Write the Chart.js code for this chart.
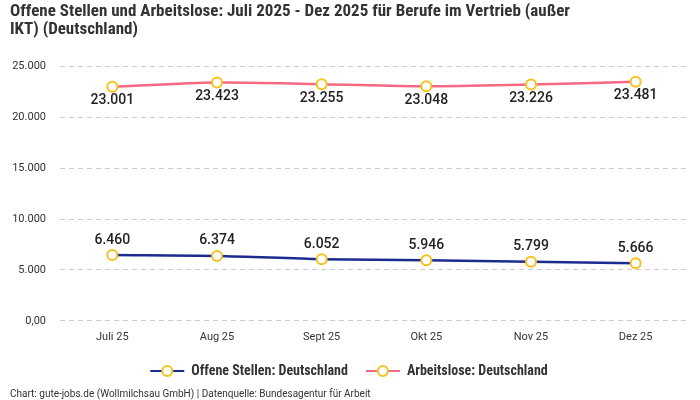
<!DOCTYPE html>
<html><head><meta charset="utf-8">
<script src="https://cdn.jsdelivr.net/npm/chart.js@4"></script>
<style>html,body{margin:0;padding:0;background:#fff}#wrap{width:700px;height:400px;position:relative}</style>
</head><body><div id="wrap"><canvas id="c" width="700" height="400"></canvas></div>
<script>
const categories = ["Juli 25","Aug 25","Sept 25","Okt 25","Nov 25","Dez 25"];
const offeneStellen = [6460, 6374, 6052, 5946, 5799, 5666];
const arbeitslose = [23001, 23423, 23255, 23048, 23226, 23481];
const yTickLabels = {0:"0,00",5000:"5.000",10000:"10.000",15000:"15.000",20000:"20.000",25000:"25.000"};
const seriesNames = ["Offene Stellen: Deutschland","Arbeitslose: Deutschland"];
const titleText = ["Offene Stellen und Arbeitslose: Juli 2025 - Dez 2025 für Berufe im Vertrieb (außer","IKT) (Deutschland)"];
const footerText = "Chart: gute-jobs.de (Wollmilchsau GmbH) | Datenquelle: Bundesagentur für Arbeit";

const FONT = "'Liberation Sans Narrow','Roboto Condensed','Roboto',sans-serif";
const fmt = v => v.toLocaleString('de-DE');

const labelPlugin = {
  id:'vlabels',
  afterDatasetsDraw(chart){
    const ctx = chart.ctx;
    ctx.save();
    ctx.font = "500 14px Roboto, sans-serif";
    ctx.fillStyle = "#222";
    ctx.textAlign = "center";
    ctx.textBaseline = "middle";
    chart.data.datasets.forEach((ds,i)=>{
      const meta = chart.getDatasetMeta(i);
      meta.data.forEach((pt,j)=>{
        const off = ds.labelPos === 'below' ? 14 : -15;
        ctx.fillText(fmt(ds.data[j]), pt.x, pt.y + off);
      });
    });
    ctx.restore();
  }
};

new Chart(document.getElementById('c'), {
  type:'line',
  data:{
    labels: categories,
    datasets:[
      {label: seriesNames[0], data: offeneStellen, borderColor:'#1b2c8f', backgroundColor:'#fff',
       pointBorderColor:'#f7c11e', pointBackgroundColor:'#fff', pointRadius:5, pointBorderWidth:2,
       borderWidth:2.5, tension:0.3, labelPos:'above'},
      {label: seriesNames[1], data: arbeitslose, borderColor:'#f46a84', backgroundColor:'#fff',
       pointBorderColor:'#f7c11e', pointBackgroundColor:'#fff', pointRadius:5, pointBorderWidth:2,
       borderWidth:2.5, tension:0.3, labelPos:'below'}
    ]
  },
  options:{
    responsive:false, animation:false, devicePixelRatio:1,
    layout:{padding:{left:10,right:12,top:0,bottom:0}},
    plugins:{
      title:{display:true, text:titleText, align:'start', color:'#333',
        font:{family:FONT, size:17, weight:'bold', lineHeight:1.1}, padding:{top:2,bottom:27}},
      subtitle:{display:true, text:footerText, position:'bottom', align:'start', color:'#333',
        font:{family:"Roboto, sans-serif", size:10}, padding:{top:0,bottom:0}},
      legend:{position:'bottom', labels:{color:'#333', boxWidth:34, boxHeight:2, padding:18,
        font:{family:FONT, size:14, weight:'bold'},
        generateLabels(chart){
          return chart.data.datasets.map((ds,i)=>({text:ds.label, fillStyle:ds.borderColor, strokeStyle:ds.borderColor,
            lineWidth:0, datasetIndex:i, fontColor:'#333'}));
        }}},
      tooltip:{enabled:false}
    },
    scales:{
      x:{offset:true, grid:{display:false}, border:{display:false},
         ticks:{color:'#333', font:{family:"Roboto, sans-serif", size:11}, padding:2}},
      y:{min:0, max:25000,
         afterFit(s){ s.width = 50; },
         grid:{color:'#cccccc', drawTicks:false},
         border:{display:false, dash:[5,4]},
         ticks:{stepSize:5000, color:'#333', padding:14, font:{family:"Roboto, sans-serif", size:11},
           callback:v=>yTickLabels[v]}}
    }
  },
  plugins:[labelPlugin, {
    id:'legendMarker',
    afterDraw(chart){
      const lg = chart.legend; const ctx = chart.ctx;
      lg.legendHitBoxes.forEach((b,i)=>{
        const cx = b.left + 17, cy = b.top + b.height/2;
        ctx.save();
        ctx.beginPath(); ctx.arc(cx, cy, 5, 0, Math.PI*2);
        ctx.fillStyle='#fff'; ctx.fill(); ctx.lineWidth=2; ctx.strokeStyle='#f7c11e'; ctx.stroke();
        ctx.restore();
      });
    }
  }]
});
</script></body></html>
